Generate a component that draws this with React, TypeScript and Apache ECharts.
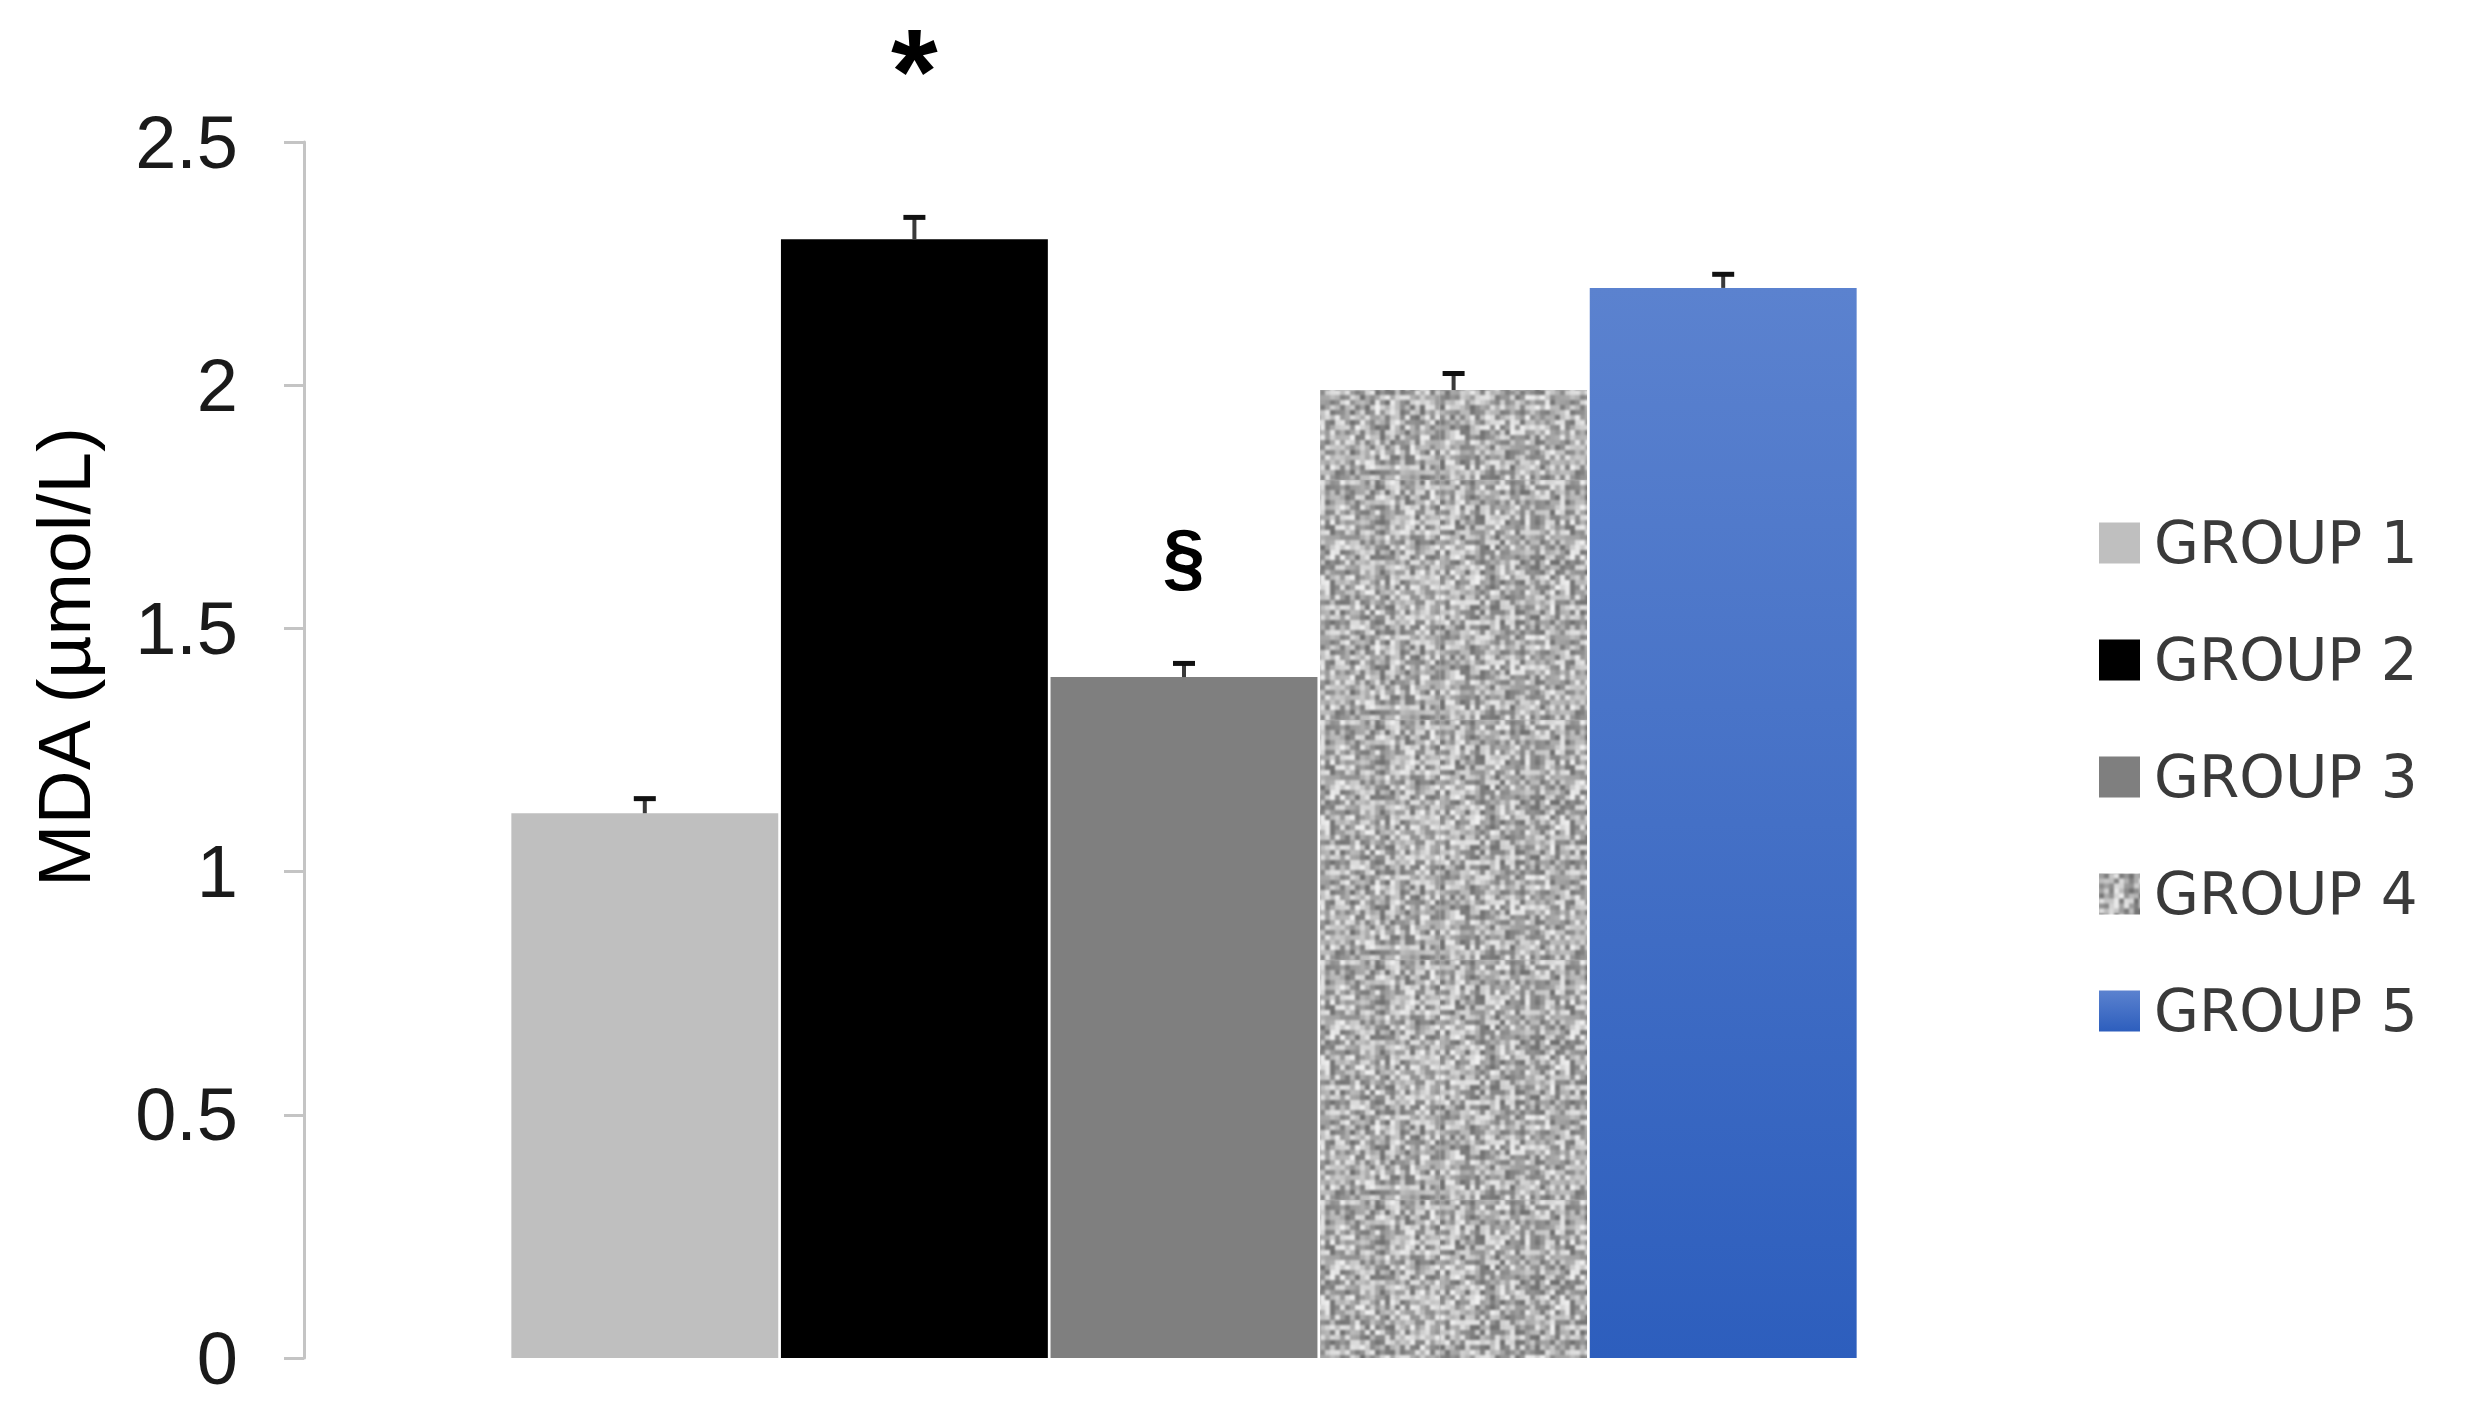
import React, { useEffect, useRef } from "react";
import * as echarts from "echarts";

const groups = ["GROUP 1", "GROUP 2", "GROUP 3", "GROUP 4", "GROUP 5"];
const mdaMeans = [1.12, 2.3, 1.4, 1.99, 2.2];
const mdaErrors = [0.03, 0.045, 0.028, 0.034, 0.028];
const significance = ["", "*", "§", "", ""];
const yTicks = [0, 0.5, 1, 1.5, 2, 2.5];
const yTitle = "MDA (\u00B5mol/L)";

function makeSpeckle(): HTMLCanvasElement {
  const size = 240;
  const raw = document.createElement("canvas");
  raw.width = size;
  raw.height = size;
  const rctx = raw.getContext("2d")!;
  let a = 0x9e3779b9;
  const next = () => {
    a = (a + 0x6d2b79f5) | 0;
    let t = Math.imul(a ^ (a >>> 15), 1 | a);
    t = (t + Math.imul(t ^ (t >>> 7), 61 | t)) ^ t;
    return ((t ^ (t >>> 14)) >>> 0) / 4294967296;
  };
  const cell = 5;
  for (let y = 0; y < size; y += cell) {
    for (let x = 0; x < size; x += cell) {
      const v = Math.round(110 + next() * 130);
      rctx.fillStyle = `rgb(${v},${v},${v})`;
      rctx.fillRect(x, y, cell, cell);
    }
  }
  const c = document.createElement("canvas");
  c.width = size;
  c.height = size;
  const ctx = c.getContext("2d")!;
  ctx.fillStyle = "#b0b0b0";
  ctx.fillRect(0, 0, size, size);
  (ctx as any).filter = "blur(1.2px)";
  ctx.drawImage(raw, 0, 0);
  return c;
}

export default function App() {
  const ref = useRef<HTMLDivElement>(null);

  useEffect(() => {
    if (!ref.current) return;
    const chart = echarts.init(ref.current, null, { renderer: "svg" });
    const speckle = makeSpeckle();

    const colors: any[] = [
      "#bfbfbf",
      "#000000",
      "#7f7f7f",
      { image: speckle, repeat: "repeat", imageWidth: 240, imageHeight: 240 },
      new echarts.graphic.LinearGradient(0, 0, 0, 1, [
        { offset: 0, color: "#5b82cf" },
        { offset: 1, color: "#2d5ebd" },
      ]),
    ];

    const barSeries = groups.map((g, i) => ({
      name: g,
      type: "bar",
      data: groups.map((_, j) => (j === i ? mdaMeans[i] : "-")),
      barGap: "-100%",
      barCategoryGap: "1%",
      itemStyle: { color: colors[i] },
      label: significance[i]
        ? {
            show: true,
            position: "top",
            formatter: significance[i],
            distance: significance[i] === "*" ? 108 : 83,
            fontFamily: "Liberation Sans",
            fontWeight: "bold",
            fontSize: significance[i] === "*" ? 120 : 76,
            lineHeight: significance[i] === "*" ? 120 : 78,
            color: "#000",
          }
        : { show: false },
    }));

    const errorSeries = {
      type: "custom",
      name: "error",
      silent: true,
      z: 10,
      encode: { x: 0, y: [1, 2] },
      data: groups.map((_, i) => [i, mdaMeans[i], mdaMeans[i] + mdaErrors[i]]),
      renderItem: (params: any, api: any) => {
        const x = api.value(0);
        const p0 = api.coord([x, api.value(1)]);
        const p1 = api.coord([x, api.value(2)]);
        const half = 11;
        return {
          type: "group",
          children: [
            {
              type: "line",
              shape: { x1: p0[0], y1: p0[1], x2: p1[0], y2: p1[1] },
              style: { stroke: "#3a3a3a", lineWidth: 4 },
            },
            {
              type: "line",
              shape: { x1: p1[0] - half, y1: p1[1], x2: p1[0] + half, y2: p1[1] },
              style: { stroke: "#111", lineWidth: 5 },
            },
          ],
        };
      },
    };

    chart.setOption({
      animation: false,
      backgroundColor: "#ffffff",
      grid: { left: 510, right: 611, top: 142, bottom: 60, containLabel: false },
      xAxis: {
        type: "category",
        data: groups,
        axisLine: { show: false },
        axisTick: { show: false },
        axisLabel: { show: false },
        splitLine: { show: false },
      },
      yAxis: {
        type: "value",
        min: yTicks[0],
        max: yTicks[yTicks.length - 1],
        interval: yTicks[1] - yTicks[0],
        offset: 206,
        axisLine: { show: true, lineStyle: { color: "#c4c4c4", width: 3 } },
        axisTick: { show: true, length: 20, lineStyle: { color: "#c4c4c4", width: 3 } },
        splitLine: { show: false },
        axisLabel: {
          margin: 66,
          fontFamily: "Liberation Sans",
          fontSize: 74,
          color: "#1a1a1a",
        },
      },
      legend: {
        data: groups,
        orient: "vertical",
        left: 2094,
        top: 507,
        itemWidth: 41,
        itemHeight: 41,
        itemGap: 55,
        icon: "rect",
        selectedMode: false,
        textStyle: {
          fontFamily: "DejaVu Sans",
          fontSize: 58,
          lineHeight: 62,
          color: "#3a3a3a",
          padding: [0, 0, 0, 9],
        },
      },
      graphic: [
        {
          type: "text",
          x: 64,
          y: 657,
          rotation: Math.PI / 2,
          style: {
            text: yTitle,
            fontFamily: "Liberation Sans",
            fontSize: 75,
            fill: "#000",
            align: "center",
            verticalAlign: "middle",
            textAlign: "center",
            textVerticalAlign: "middle",
          },
        },
      ],
      series: [...barSeries, errorSeries],
    });

    return () => chart.dispose();
  }, []);

  return (
    <div
      ref={ref}
      style={{ position: "fixed", left: 0, top: 0, width: 2469, height: 1418 }}
    />
  );
}
